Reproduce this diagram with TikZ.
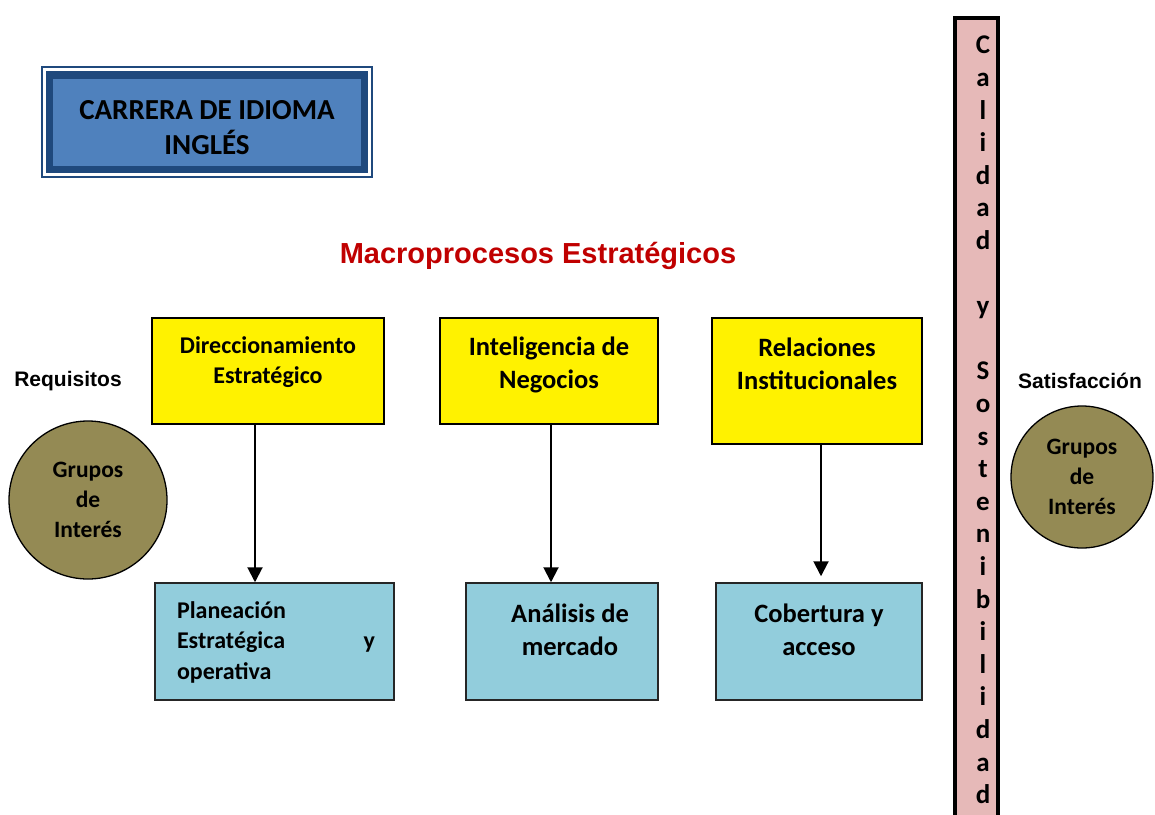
\documentclass[tikz,border=0pt]{standalone}
\usepackage{fontspec}
\setmainfont{Carlito}
\newfontfamily\arialf{Liberation Sans}
\usetikzlibrary{arrows.meta,calc}
\definecolor{navy}{HTML}{1F497D}
\definecolor{boxblue}{HTML}{4F81BD}
\definecolor{lightblue}{HTML}{92CDDC}
\definecolor{olivec}{HTML}{948A54}
\definecolor{pinkbar}{HTML}{E6B9B8}
\definecolor{titlered}{HTML}{C00000}
\begin{document}
\begin{tikzpicture}[x=1pt,y=-1pt,
  ybox/.style={draw=black,line width=1.8pt,fill=yellow,inner sep=0pt},
  bbox/.style={draw=black!85,line width=1.5pt,fill=lightblue,inner sep=0pt},
  gcirc/.style={circle,draw=black,line width=1.3pt,fill=olivec,inner sep=0pt},
  txt/.style={inner sep=0pt,align=center,font=\bfseries},
  arr/.style={line width=2pt,-{Triangle[width=15pt,length=15pt]}}
]
\useasboundingbox (0,0) rectangle (1155,814);
% header box
\node[draw=navy,line width=1.3pt,minimum width=330pt,minimum height=110pt,inner sep=0pt] (hdrout) at (207,122) {};
\node[draw=navy,line width=7.5pt,fill=boxblue,minimum width=315pt,minimum height=94.5pt,inner sep=0pt] (hdr) at (207,122) {};
\node[txt,font=\bfseries\fontsize{29}{35}\selectfont] (hdrt) at (207,128) {CARRERA DE IDIOMA\\INGLÉS};
% title
\node[inner sep=0pt,font=\arialf\bfseries\fontsize{29}{34}\selectfont,text=titlered] (title) at (538,256) {Macroprocesos Estratégicos};
% side labels
\node[inner sep=0pt,font=\arialf\bfseries\fontsize{21}{25}\selectfont] (req) at (68,381) {Requisitos};
\node[inner sep=0pt,font=\arialf\bfseries\fontsize{21}{25}\selectfont] (sat) at (1080,381) {Satisfacción};
% circles
\node[gcirc,minimum size=158pt] (gl) at (88,500) {};
\node[txt,font=\bfseries\fontsize{23.5}{30}\selectfont] at (gl.center) {Grupos\\de\\Interés};
\node[gcirc,minimum size=142pt] (gr) at (1082,477) {};
\node[txt,font=\bfseries\fontsize{23.5}{30}\selectfont] at (gr.center) {Grupos\\de\\Interés};
% yellow boxes
\node[ybox,minimum width=232pt,minimum height=106pt] (y1) at (268,371) {};
\node[txt,font=\bfseries\fontsize{24}{30}\selectfont] at (268,362) {Direccionamiento\\Estratégico};
\node[ybox,minimum width=218pt,minimum height=106pt] (y2) at (549,371) {};
\node[txt,font=\bfseries\fontsize{26.5}{33}\selectfont] at (549,365) {Inteligencia de\\Negocios};
\node[ybox,minimum width=210pt,minimum height=126pt] (y3) at (817,381) {};
\node[txt,font=\bfseries\fontsize{26.5}{33}\selectfont] at (817,364) {Relaciones\\Institucionales};
% blue boxes
\node[bbox,minimum width=239pt,minimum height=117pt] (b1) at (274.5,641.5) {};
\node[inner sep=0pt,align=left,text width=198pt,font=\bfseries\fontsize{24}{30.5}\selectfont] at (276,642) {Planeación\\Estratégica\hspace{\fill}y\\operativa};
\node[bbox,minimum width=192pt,minimum height=117pt] (b2) at (562,641.5) {};
\node[txt,font=\bfseries\fontsize{26.5}{33}\selectfont] at (570,630) {Análisis de\\mercado};
\node[bbox,minimum width=206pt,minimum height=117pt] (b3) at (819,641.5) {};
\node[txt,font=\bfseries\fontsize{26.5}{33}\selectfont] at (819,630) {Cobertura y\\acceso};
% arrows
\coordinate (a1) at (255,0);
\coordinate (a2) at (551,0);
\coordinate (a3) at (821,0);
\draw[arr] (y1.south -| a1) -- (b1.north -| a1);
\draw[arr] (y2.south -| a2) -- (b2.north -| a2);
\draw[arr] (y3.south -| a3) -- ($(b3.north -| a3)+(0,-6)$);
% vertical bar
\node[draw=black,line width=4pt,fill=pinkbar,minimum width=43pt,minimum height=820pt,inner sep=0pt,anchor=north] (bar) at (976,16) {};
\node[inner sep=0pt,align=center,anchor=north,font=\bfseries\fontsize{27}{32.6}\selectfont] (bart) at (983,36) {C\\a\\l\\i\\d\\a\\d\\~\\y\\~\\S\\o\\s\\t\\e\\n\\i\\b\\i\\l\\i\\d\\a\\d};
\end{tikzpicture}
\end{document}
